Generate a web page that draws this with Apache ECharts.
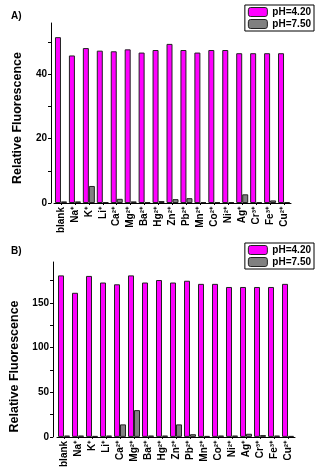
<!DOCTYPE html>
<html>
<head>
<meta charset="utf-8">
<script src="https://cdn.jsdelivr.net/npm/echarts@6/dist/echarts.min.js"></script>
<style>
  html, body { margin: 0; padding: 0; background: #fff; }
  #chart { width: 316px; height: 470px; }
</style>
</head>
<body>
<div id="chart"></div>
<script>
// ions on the x axis (same for both panels)
const ions = ['blank', 'Na⁺', 'K⁺', 'Li⁺', 'Ca²⁺', 'Mg²⁺', 'Ba²⁺', 'Hg²⁺', 'Zn²⁺',
  'Pb²⁺', 'Mn²⁺', 'Co²⁺', 'Ni²⁺', 'Ag⁺', 'Cr³⁺', 'Fe³⁺', 'Cu²⁺']
const seriesNames = ['pH=4.20', 'pH=7.50']

// panel A
const aAcid = [51.6, 45.9, 48.2, 47.4, 47.2, 47.8, 46.8, 47.6, 49.5, 47.6, 46.8, 47.6, 47.6, 46.6, 46.6, 46.6, 46.6]
const aBase = [0.5, 0.5, 5.3, 0.3, 1.3, 0.5, 0.3, 0.6, 1.2, 1.5, 0.3, 0.3, 0.3, 2.7, 0.3, 0.8, 0.3]
const aTicks = [0, 10, 20, 30, 40, 50]
const aLabels = [0, 20, 40]

// panel B
const bAcid = [181, 161.5, 180.4, 173, 171, 181, 173, 175.8, 173, 175, 171.5, 171.5, 168, 168, 168, 168, 171.5]
const bBase = [1.5, 1.5, 1, 1.5, 14, 30, 1.5, 1.5, 14, 3, 1, 1.5, 1.5, 3.5, 2, 1.5, 1]
const bTicks = [0, 25, 50, 75, 100, 125, 150, 175]
const bLabels = [0, 50, 100, 150]

const font = 'Liberation Sans, Arial, sans-serif'
const colors = ['#ff00ff', '#808080']

function xAxisFor (gridIndex) {
  return {
    type: 'category',
    gridIndex: gridIndex,
    data: ions,
    axisLine: { lineStyle: { color: '#000', width: 1 } },
    axisTick: { show: true, alignWithLabel: true, length: 2, lineStyle: { color: '#000' } },
    axisLabel: {
      interval: 0, rotate: 90, margin: 4, color: '#000',
      fontFamily: font, fontWeight: 'bold', fontSize: 10
    }
  }
}

function yAxisFor (gridIndex, max, ticks, labels, offset, shift) {
  return {
    type: 'value',
    gridIndex: gridIndex,
    min: 0,
    max: max,
    offset: offset,
    name: 'Relative Fluorescence',
    nameLocation: 'middle',
    nameGap: 27,
    // right padding pushes the rotated title down a little, like the original
    nameTextStyle: {
      fontFamily: font, fontWeight: 'bold', fontSize: 12.5, color: '#000',
      padding: [0, shift, 0, 0]
    },
    axisLine: { show: true, lineStyle: { color: '#000', width: 1 } },
    axisTick: { show: true, length: 3, customValues: ticks, lineStyle: { color: '#000' } },
    axisLabel: {
      customValues: labels, margin: 4, color: '#000',
      fontFamily: font, fontWeight: 'bold', fontSize: 10
    },
    splitLine: { show: false }
  }
}

function barSeries (name, data, idx, color) {
  return {
    name: name,
    type: 'bar',
    xAxisIndex: idx,
    yAxisIndex: idx,
    data: data,
    barWidth: 6,
    barGap: '0%',
    itemStyle: { color: color, borderColor: '#222', borderWidth: 1 }
  }
}

function legendFor (top) {
  return {
    data: seriesNames,
    orient: 'vertical',
    right: 2,
    top: top,
    itemWidth: 19,
    itemHeight: 9,
    itemGap: 2,
    padding: [2, 3, 2, 3],
    borderColor: '#000',
    borderWidth: 1,
    textStyle: { fontFamily: font, fontWeight: 'bold', fontSize: 10, color: '#000' },
    itemStyle: { borderColor: '#222', borderWidth: 1 }
  }
}

const myChart = echarts.init(document.getElementById('chart'), null, { renderer: 'canvas' })
const option = {
  animation: false,
  color: colors,
  title: [
    { text: 'A)', left: 6, top: 6, textStyle: { fontFamily: font, fontWeight: 'bold', fontSize: 10, color: '#000' } },
    { text: 'B)', left: 6, top: 241, textStyle: { fontFamily: font, fontWeight: 'bold', fontSize: 10, color: '#000' } }
  ],
  legend: [legendFor(5), legendFor(243)],
  grid: [
    { left: 54, top: 23, width: 237, height: 180 },
    { left: 57, top: 262, width: 238, height: 179 }
  ],
  xAxis: [xAxisFor(0), xAxisFor(1)],
  yAxis: [
    yAxisFor(0, 56, aTicks, aLabels, 3, 10),
    yAxisFor(1, 196, bTicks, bLabels, 4, 34)
  ],
  series: [
    barSeries(seriesNames[0], aAcid, 0, colors[0]),
    barSeries(seriesNames[1], aBase, 0, colors[1]),
    barSeries(seriesNames[0], bAcid, 1, colors[0]),
    barSeries(seriesNames[1], bBase, 1, colors[1])
  ]
}
myChart.setOption(option)
</script>
</body>
</html>
